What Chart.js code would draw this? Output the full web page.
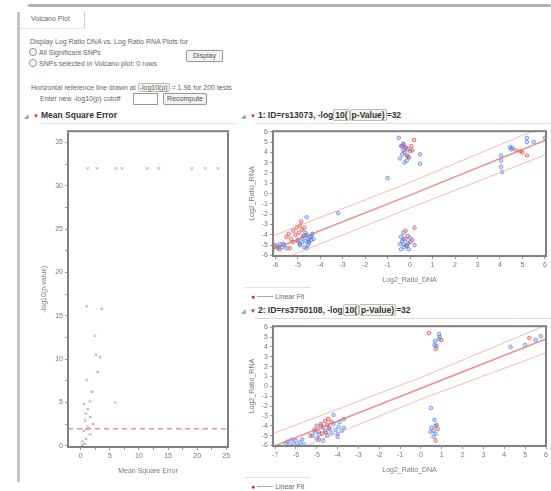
<!DOCTYPE html>
<html>
<head>
<meta charset="utf-8">
<script src="https://cdn.jsdelivr.net/npm/chart.js@4.4.1/dist/chart.umd.min.js"></script>
<style>
body { margin:0; width:551px; height:491px; background:#fff; position:relative; overflow:hidden;
  font-family:"Liberation Sans", Arial, sans-serif; color:#666; font-size:7px; }
.abs { position:absolute; white-space:nowrap; }
.bar { position:absolute; background:#b0b0b0; }
.btn { position:absolute; border:1px solid #999; border-radius:2px; background:#f2f2f2; font-size:7px;
  color:#555; text-align:center; box-shadow:0 0 1px #bbb; }
.radio { display:inline-block; width:6px; height:6px; border:1px solid #888; border-radius:50%; vertical-align:-1px; margin-right:2px; }
.title { position:absolute; font-size:8.5px; font-weight:bold; color:#333; white-space:nowrap; }
.tri { color:#999; font-size:6px; font-weight:normal; margin-right:4px; }
.red { color:#d22; font-size:6px; margin-right:2px; }
.hl { border:1px solid #bbb; border-radius:2px; background:#f4f4ea; padding:0 1px; }
.sep { position:absolute; height:1px; background:#ddd; }
canvas { position:absolute; }
</style>
</head>
<body>
<div class="bar" style="left:28px;top:4px;width:523px;height:3px;border-radius:2px;"></div>
<div class="bar" style="left:17px;top:12px;width:3px;height:470px;background:#c4c4c4;"></div>

<div class="abs" style="left:31px;top:15px;">Volcano Plot</div>
<div class="abs" style="left:84px;top:12px;width:1px;height:16px;background:#ccc;"></div>
<div class="sep" style="left:20px;top:28px;width:64px;background:#e4e4e4;"></div>

<div class="abs" style="left:30px;top:38px;">Display Log Ratio DNA vs. Log Ratio RNA Plots for</div>
<div class="abs" style="left:29px;top:48px;"><span class="radio"></span>All Significant SNPs</div>
<div class="abs" style="left:29px;top:59px;"><span class="radio" style="border-color:#6a6;"></span>SNPs selected in Volcano plot: 0 rows</div>
<div class="btn" style="left:186px;top:50px;width:35px;height:10px;line-height:10px;">Display</div>

<div class="abs" style="left:31px;top:84px;">Horizontal reference line drawn at <span class="hl">-log10(p)</span> = 1.96 for 200 tests</div>
<div class="abs" style="left:40px;top:95px;">Enter new -log10(p) cutoff</div>
<div class="abs" style="left:133px;top:93px;width:23px;height:10px;border:1px solid #999;background:#fff;"></div>
<div class="btn" style="left:163px;top:93px;width:42px;height:10px;line-height:10px;">Recompute</div>

<div class="title" style="left:24px;top:110px;"><span class="tri">&#9698;</span><span class="red">&#9660;</span>Mean Square Error</div>
<div class="sep" style="left:40px;top:123px;width:195px;"></div>

<div class="title" style="left:241px;top:110px;"><span class="tri">&#9698;</span><span class="red">&#9660;</span>1: ID=rs13073, -log<span class="hl">10(</span><span class="hl">p-Value)</span>=32</div>
<div class="sep" style="left:255px;top:123px;width:296px;"></div>

<div class="sep" style="left:245px;top:287px;width:65px;"></div>
<div class="abs" style="left:251px;top:293px;"><span style="color:#d22;">&#9679;</span> <span style="display:inline-block;width:16px;height:1px;background:#aaa;vertical-align:2px;"></span> Linear Fit</div>

<div class="title" style="left:241px;top:305px;"><span class="tri">&#9698;</span><span class="red">&#9660;</span>2: ID=rs3750108, -log<span class="hl">10(</span><span class="hl">p-Value)</span>=32</div>
<div class="sep" style="left:255px;top:318px;width:296px;"></div>

<div class="sep" style="left:245px;top:477px;width:65px;"></div>
<div class="abs" style="left:251px;top:483px;"><span style="color:#d22;">&#9679;</span> <span style="display:inline-block;width:16px;height:1px;background:#aaa;vertical-align:2px;"></span> Linear Fit</div>

<canvas id="mse" width="220" height="360" style="left:20px;top:125px;"></canvas>
<canvas id="snp1" width="311" height="165" style="left:240px;top:125px;"></canvas>
<canvas id="snp2" width="311" height="158" style="left:240px;top:320px;"></canvas>

<script>
// Mean Square Error panel: [mse, -log10(p)]
const msePoints = [
  [1.2, 32], [2.8, 32], [6.0, 32], [7.1, 32], [11.4, 32], [13.4, 32], [19.1, 32], [21.4, 32], [23.6, 32],
  [1.0, 16.1], [3.6, 15.8], [2.4, 12.7], [2.6, 10.5], [3.3, 10.2], [2.9, 8.5], [1.0, 7.6], [1.9, 6.2],
  [1.6, 5.1], [5.9, 5.0], [0.5, 4.8], [1.2, 4.2], [0.9, 3.7], [1.6, 3.3], [0.7, 2.9], [2.1, 2.5],
  [1.2, 2.2], [0.5, 1.7], [1.6, 1.3], [0.9, 0.8], [0.3, 0.5], [0.7, 0.2], [0.2, 0.1], [1.0, 1.9]
];
const cutoff = 1.96;
const mseXTicks = [0, 2.5, 5, 7.5, 10, 12.5, 15, 17.5, 20, 22.5, 25];
const mseYTicks = [0, 2.5, 5, 7.5, 10, 12.5, 15, 17.5, 20, 22.5, 25, 27.5, 30, 32.5, 35];

// SNP 1: [Log2_Ratio_DNA, Log2_Ratio_RNA]
const snp1Blue = [
  [-6.0, -5.0], [-5.9, -5.3], [-5.8, -4.9], [-5.7, -5.2], [-5.6, -5.0], [-5.85, -5.15], [-5.5, -5.3], [-5.65, -4.85],
  [-5.0, -4.6], [-4.9, -5.0], [-4.8, -4.3], [-4.7, -4.1], [-4.65, -4.6], [-4.6, -4.0], [-4.55, -4.4], [-4.5, -4.8],
  [-4.45, -4.2], [-4.4, -4.5], [-4.35, -3.9], [-4.3, -4.4], [-4.7, -5.2], [-4.6, -5.3], [-4.8, -4.7], [-4.5, -4.6],
  [-4.4, -4.1], [-4.65, -3.8], [-4.55, -5.0], [-4.6, -2.3], [-3.2, -1.9], [-1.0, 1.5],
  [-0.5, 5.4], [-0.4, 4.6], [-0.3, 4.2], [-0.35, 3.8], [-0.45, 3.4], [-0.25, 3.0], [-0.2, 4.4], [-0.1, 3.6],
  [0.0, 4.1], [-0.3, 4.8], [0.44, 3.8], [0.44, 2.9], [-0.15, 3.2],
  [-0.4, -4.2], [-0.35, -4.6], [-0.3, -4.9], [-0.25, -5.2], [-0.4, -5.4], [-0.2, -4.4], [-0.1, -4.8], [-0.3, -3.8],
  [-0.15, -5.0], [0.0, -4.3], [0.2, -5.0], [-0.45, -4.9], [-0.05, -5.4],
  [4.05, 3.7], [4.05, 3.2], [4.05, 2.6], [4.1, 2.1], [4.45, 4.5], [4.5, 4.3], [4.55, 4.45], [5.2, 5.4], [5.2, 5.0],
  [5.5, 5.0], [6.0, 5.4]
];
const snp1Red = [
  [-5.5, -4.2], [-5.4, -3.9], [-5.3, -4.4], [-5.2, -3.6], [-5.1, -4.0], [-5.05, -3.3], [-4.95, -3.8], [-4.9, -3.1],
  [-4.85, -2.7], [-4.8, -3.5], [-4.75, -4.1], [-4.7, -3.3], [-5.2, -4.7], [-5.0, -4.5], [-4.9, -4.9], [-5.8, -5.4],
  [-6.05, -5.1], [-5.35, -5.3],
  [-0.3, 4.8], [-0.2, 4.5], [-0.1, 4.3], [-0.25, 4.0], [-0.15, 3.7], [-0.05, 3.5], [0.1, 4.2], [0.05, 4.6],
  [0.18, 5.2], [-0.35, 4.6],
  [0.2, -3.3], [-0.2, -3.6], [-0.1, -4.1], [-0.3, -4.4], [0.0, -4.7], [-0.15, -5.1], [0.1, -4.5],
  [4.7, 4.2], [4.9, 4.1], [5.2, 3.7], [5.0, 4.0]
];
const snp1FitX = [-6.1, 0, 6.05];
const snp1Fit = [-5.4, -0.15, 5.2];
const snp1Upper = [-4.1, 1.1, 6.6];
const snp1Lower = [-6.7, -1.4, 3.8];

// SNP 2
const snp2Blue = [
  [-6.4, -5.6], [-6.3, -5.9], [-6.2, -5.4], [-6.1, -5.8], [-6.0, -5.5], [-5.9, -6.0], [-5.8, -5.7], [-5.7, -5.4],
  [-5.6, -5.9], [-6.5, -5.8],
  [-5.2, -5.0], [-5.1, -4.6], [-5.0, -5.3], [-4.9, -4.9], [-4.7, -5.5], [-4.6, -4.5], [-4.5, -5.0], [-4.4, -4.2],
  [-4.3, -4.7], [-4.2, -3.8], [-4.1, -4.4], [-4.0, -4.8], [-3.95, -4.1], [-3.9, -3.6], [-3.8, -4.5], [-3.7, -4.2],
  [-4.2, -2.9], [-3.7, -3.3], [-4.8, -4.0], [-4.0, -5.1],
  [0.86, 5.3], [0.86, 4.8], [0.67, 4.6], [0.75, 4.1], [0.65, 4.2], [0.9, 5.0],
  [0.48, -2.2], [0.65, -3.4], [0.5, -4.2], [0.6, -4.5], [0.75, -3.9], [0.45, -4.6], [0.6, -5.1], [0.7, -4.8],
  [4.3, 4.0], [5.0, 4.2], [5.5, 4.7], [5.75, 5.1]
];
const snp2Red = [
  [-5.1, -4.4], [-5.0, -4.0], [-4.9, -4.6], [-4.8, -3.8], [-4.7, -4.2], [-4.6, -3.5], [-4.5, -3.9], [-4.45, -3.3],
  [-4.4, -4.3], [-4.3, -3.6], [-4.55, -4.7], [-4.75, -4.8], [-5.3, -5.0], [-4.9, -5.4],
  [0.38, 5.4], [0.98, 4.7], [0.71, 3.8],
  [0.7, -5.5], [0.8, -4.3], [0.7, -4.0],
  [5.2, 4.9]
];
const snp2FitX = [-7.1, 0, 6.0];
const snp2Fit = [-6.1, -0.2, 4.8];
const snp2Upper = [-4.8, 0.9, 6.2];
const snp2Lower = [-7.4, -1.3, 3.4];

const snpTicks = [-7, -6, -5, -4, -3, -2, -1, 0, 1, 2, 3, 4, 5, 6];

const toXY = arr => arr.map(p => ({ x: p[0], y: p[1] }));
const lineXY = (xs, ys) => xs.map((x, i) => ({ x: x, y: ys[i] }));

Chart.defaults.font.family = '"Liberation Sans", Arial, sans-serif';
Chart.defaults.font.size = 7;
Chart.defaults.color = '#666';
Chart.defaults.animation = false;

// dark frame around the plot area, like the JMP frame box
const frame = {
  id: 'frame',
  afterDatasetsDraw(chart) {
    const a = chart.chartArea, c = chart.ctx;
    c.save();
    c.strokeStyle = '#808080';
    c.lineWidth = 2;
    c.strokeRect(a.left, a.top, a.right - a.left, a.bottom - a.top);
    c.restore();
  }
};

function axis(min, max, ticks, title, isY, size, labelEvery) {
  return {
    type: 'linear', min: min, max: max,
    afterBuildTicks: s => { s.ticks = ticks.filter(v => v >= min && v <= max).map(v => ({ value: v })); },
    afterFit: s => { if (isY) s.width = size; else s.height = size; },
    grid: { drawOnChartArea: false, drawTicks: true, tickLength: 3, color: '#999' },
    border: { display: false },
    ticks: {
      padding: 2, maxRotation: 0, autoSkip: false, color: '#777',
      callback: v => (labelEvery && v % labelEvery !== 0) ? '' : v
    },
    title: { display: true, text: title, color: '#777', font: { size: 7 }, padding: 2 }
  };
}

new Chart(document.getElementById('mse'), {
  type: 'scatter',
  data: {
    datasets: [
      {
        data: toXY(msePoints), pointStyle: 'crossRot', pointRadius: 1.8, borderColor: '#aaa', borderWidth: 1,
        backgroundColor: '#aaa'
      },
      {
        type: 'line', data: [{ x: -2.2, y: cutoff }, { x: 25.3, y: cutoff }], borderColor: '#f29090',
        borderWidth: 1.5, borderDash: [5, 4], pointRadius: 0
      }
    ]
  },
  options: {
    responsive: false,
    layout: { padding: { left: 18, right: 12, top: 5, bottom: 8 } },
    plugins: { legend: { display: false }, tooltip: { enabled: false } },
    scales: {
      x: axis(-2.2, 25.3, mseXTicks, 'Mean Square Error', false, 30, 5),
      y: axis(-0.15, 36.3, mseYTicks, '-log10(p-value)', true, 30, 5)
    }
  },
  plugins: [frame]
});

function snpChart(id, blue, red, fx, fit, up, lo, xmin, xmax, ymin, ymax, padBottom) {
  new Chart(document.getElementById(id), {
    type: 'scatter',
    data: {
      datasets: [
        { type: 'line', data: lineXY(fx, up), borderColor: 'rgba(242,160,160,0.75)', borderWidth: 1, pointRadius: 0 },
        { type: 'line', data: lineXY(fx, lo), borderColor: 'rgba(242,160,160,0.75)', borderWidth: 1, pointRadius: 0 },
        { type: 'line', data: lineXY(fx, fit), borderColor: 'rgba(232,110,110,0.8)', borderWidth: 1.5, pointRadius: 0 },
        {
          data: toXY(blue), pointRadius: 1.8, borderWidth: 1,
          borderColor: 'rgba(70,120,230,0.65)', backgroundColor: 'rgba(70,120,230,0.25)'
        },
        {
          data: toXY(red), pointRadius: 1.8, borderWidth: 1,
          borderColor: 'rgba(228,60,60,0.65)', backgroundColor: 'rgba(228,60,60,0.25)'
        }
      ]
    },
    options: {
      responsive: false,
      layout: { padding: { left: 6, right: 3, top: 5, bottom: padBottom } },
      plugins: { legend: { display: false }, tooltip: { enabled: false } },
      scales: {
        x: axis(xmin, xmax, snpTicks, 'Log2_Ratio_DNA', false, 30, 0),
        y: axis(ymin, ymax, snpTicks, 'Log2_Ratio_RNA', true, 27, 0)
      }
    },
    plugins: [frame]
  });
}

snpChart('snp1', snp1Blue, snp1Red, snp1FitX, snp1Fit, snp1Upper, snp1Lower, -6.1, 6.05, -6.05, 6.05, 4);
snpChart('snp2', snp2Blue, snp2Red, snp2FitX, snp2Fit, snp2Upper, snp2Lower, -7.1, 6.0, -6.05, 6.1, 2);
</script>
</body>
</html>
